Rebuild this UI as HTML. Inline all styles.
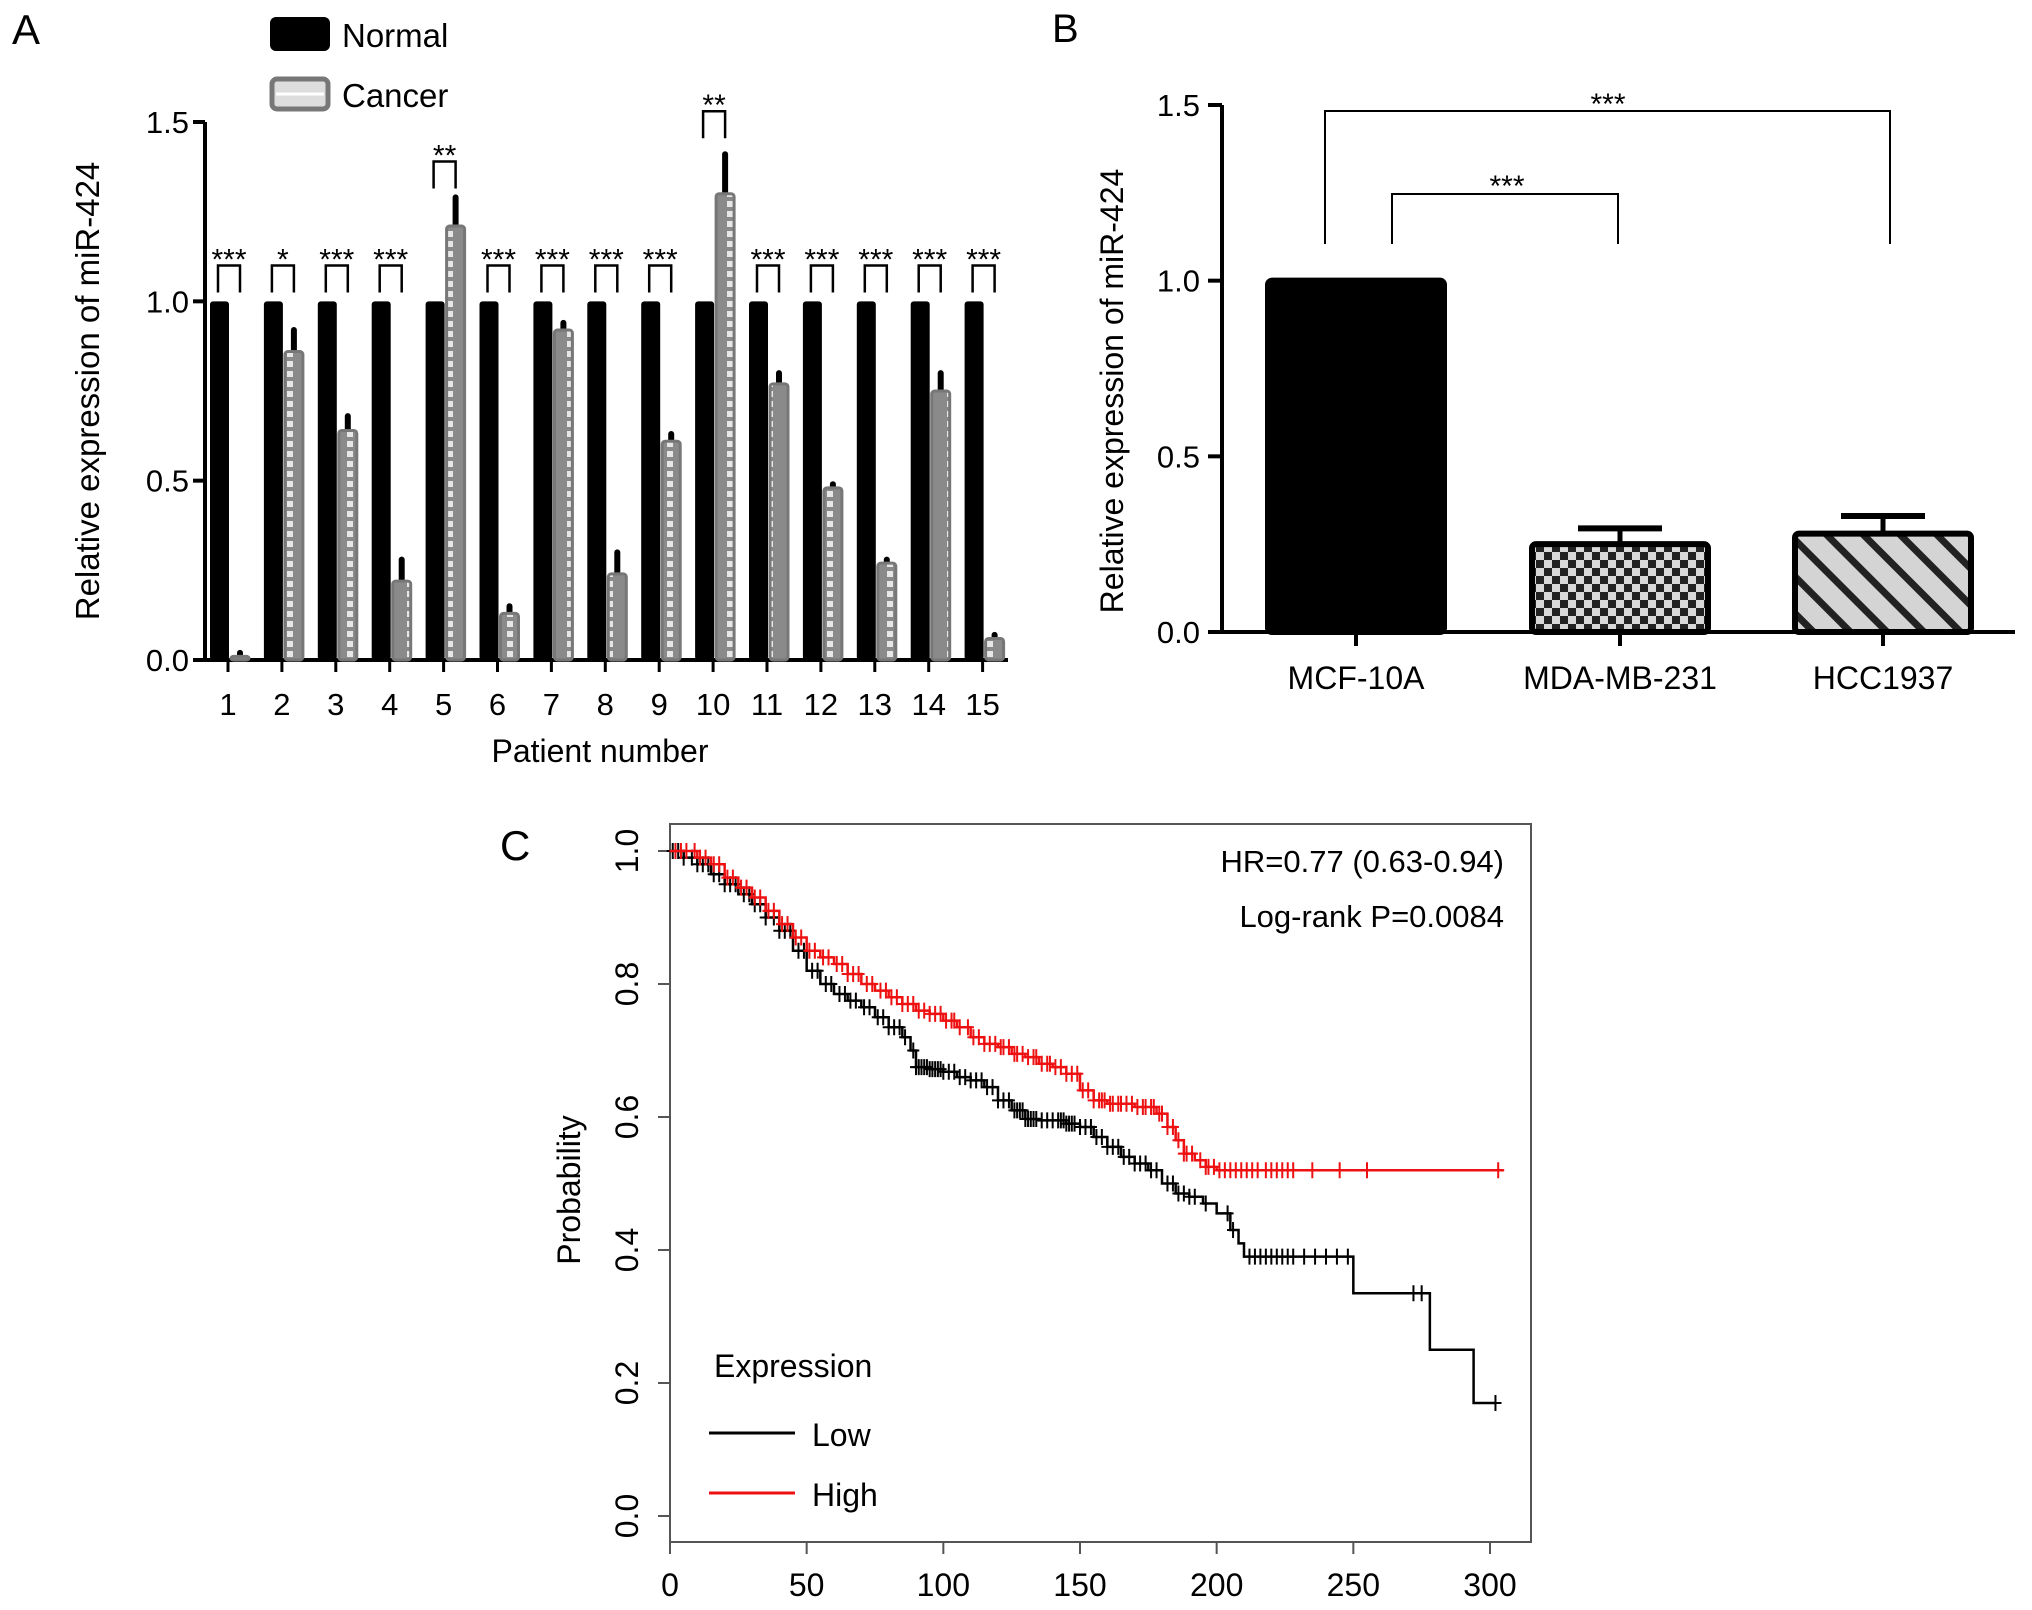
<!DOCTYPE html>
<html><head><meta charset="utf-8"><style>
html,body{margin:0;padding:0;background:#fff;}
svg{display:block;font-family:"Liberation Sans",Arial,sans-serif;}
</style></head><body>
<svg id="fig" width="2032" height="1610" viewBox="0 0 2032 1610" xmlns="http://www.w3.org/2000/svg">
<defs>
<pattern id="cancerPat" patternUnits="userSpaceOnUse" width="20" height="10">
<rect width="20" height="10" fill="#8a8a8a"/>
<rect x="7" y="1" width="6" height="6" fill="#e6e6e6"/>
</pattern>
<pattern id="checkPat" patternUnits="userSpaceOnUse" width="16" height="16">
<rect width="16" height="16" fill="#d8d8d8"/>
<rect width="8" height="8" fill="#222"/>
<rect x="8" y="8" width="8" height="8" fill="#222"/>
</pattern>
<pattern id="stripePat" patternUnits="userSpaceOnUse" width="26" height="26" patternTransform="rotate(-45)">
<rect width="26" height="26" fill="#d4d4d4"/>
<rect width="7" height="26" fill="#222"/>
</pattern>
</defs>
<g id="panelA"></g>
<g id="panelB"></g>
<g id="panelC"></g>
</svg>
<script>
// ---------- Panel A data ----------
const patients = ["1","2","3","4","5","6","7","8","9","10","11","12","13","14","15"];
const normalValues = [1,1,1,1,1,1,1,1,1,1,1,1,1,1,1];
const cancerValues = [0.01,0.86,0.64,0.22,1.21,0.13,0.92,0.24,0.61,1.30,0.77,0.48,0.27,0.75,0.06];
const cancerErrors = [0.01,0.06,0.04,0.06,0.08,0.02,0.02,0.06,0.02,0.11,0.03,0.01,0.01,0.05,0.01];
const sigLabels = ["***","*","***","***","**","***","***","***","***","**","***","***","***","***","***"];
const sigLevels = [1.1,1.1,1.1,1.1,1.39,1.1,1.1,1.1,1.1,1.53,1.1,1.1,1.1,1.1,1.1];
const aTicks = [0,0.5,1.0,1.5];
const aTickLabels = ["0.0","0.5","1.0","1.5"];
// ---------- Panel B data ----------
const cellLines = ["MCF-10A","MDA-MB-231","HCC1937"];
const cellValues = [1.0,0.25,0.28];
const cellErrors = [0,0.045,0.05];
const bTicks = [0,0.5,1.0,1.5];
const bTickLabels = ["0.0","0.5","1.0","1.5"];
// ---------- Panel C data ----------
const lowTimes = [0,5,10,15,20,25,30,35,40,45,50,55,60,65,70,75,80,85,88,90,95,100,105,110,115,120,125,130,135,140,145,150,155,160,165,170,175,180,185,190,195,200,205,208,210,250,278,294,302];
const lowSurv = [1.0,0.99,0.98,0.965,0.95,0.935,0.92,0.9,0.88,0.85,0.82,0.80,0.785,0.775,0.765,0.75,0.735,0.72,0.70,0.675,0.672,0.668,0.66,0.655,0.645,0.625,0.61,0.597,0.595,0.595,0.59,0.585,0.57,0.555,0.54,0.53,0.52,0.5,0.485,0.48,0.47,0.455,0.43,0.41,0.39,0.335,0.25,0.17,0.17];
const highTimes = [0,5,10,15,20,25,30,35,40,45,50,55,60,65,70,75,80,85,90,95,100,105,110,115,120,125,130,135,140,145,150,155,160,170,178,182,185,188,192,196,200,305];
const highSurv = [1.0,1.0,0.99,0.98,0.96,0.945,0.93,0.91,0.89,0.87,0.85,0.84,0.83,0.815,0.80,0.79,0.78,0.77,0.76,0.755,0.745,0.735,0.72,0.71,0.705,0.695,0.69,0.68,0.675,0.665,0.64,0.625,0.62,0.615,0.605,0.585,0.565,0.545,0.535,0.525,0.52,0.52];
const lowCensor = [1,3,5,8,10,12,14,16,18,20,22,24,27,29,31,33,35,38,40,42,44,47,49,52,54,57,59,62,64,66,68,71,73,76,78,80,82,84,86,89,90,91,92,93,94,95,96,97,98,99,100,102,104,106,108,110,112,114,116,118,120,122,124,126,127,128,129,130,131,132,133,134,136,138,140,142,143,144,145,146,147,148,150,152,154,156,158,160,162,164,166,168,170,172,174,176,178,182,184,186,188,190,192,196,204,206,212,214,216,218,220,222,224,226,228,232,236,240,244,248,272,275,302];
const highCensor = [2,4,6,9,11,13,16,18,21,23,26,28,31,33,36,38,41,43,46,48,51,53,56,58,61,63,65,67,69,72,74,77,79,81,83,85,87,89,91,93,95,97,99,101,103,104,106,109,111,113,115,117,119,121,122,124,126,127,129,131,133,134,136,138,139,141,143,145,147,149,151,153,155,157,158,159,161,162,164,165,167,169,171,173,174,176,177,179,180,182,184,186,188,189,191,194,196,197,199,201,203,205,207,209,211,213,215,218,220,222,224,226,228,235,245,255,303];
const cXTicks = [0,50,100,150,200,250,300];
const cYTicks = [0,0.2,0.4,0.6,0.8,1.0];
const cYTickLabels = ["0.0","0.2","0.4","0.6","0.8","1.0"];

const NS = "http://www.w3.org/2000/svg";
function mk(parent, tag, attrs, text){
  const e = document.createElementNS(NS, tag);
  for (const k in attrs) e.setAttribute(k, attrs[k]);
  if (text !== undefined) e.textContent = text;
  parent.appendChild(e);
  return e;
}

// ================= Panel A =================
(function(){
  const g = document.getElementById('panelA');
  const x0 = 205, y0 = 660, yTop = 122, c0 = 228, step = 53.9, xEnd = 1008;
  const yA = v => y0 - (y0 - yTop) * v / 1.5;
  const cx = i => c0 + i * step;
  let t = mk(g,'text',{x:12,y:44,'font-size':42},'A');
   
  let r = mk(g,'rect',{x:270,y:17,width:60,height:34,rx:6,fill:'#000'});
   
  t = mk(g,'text',{x:342,y:47,'font-size':33},'Normal');
   
  r = mk(g,'rect',{x:272,y:79,width:56,height:30,rx:5,fill:'#ddd',stroke:'#777','stroke-width':5});
   
  mk(g,'line',{x1:276,y1:94,x2:324,y2:94,stroke:'#fff','stroke-width':3});
  t = mk(g,'text',{x:342,y:107,'font-size':33},'Cancer');
   
  let ax = mk(g,'line',{x1:x0,y1:yTop,x2:x0,y2:y0+2,stroke:'#000','stroke-width':4});
   
  ax = mk(g,'line',{x1:x0-2,y1:y0,x2:xEnd,y2:y0,stroke:'#000','stroke-width':4});
   
  aTicks.forEach((v,i)=>{
    mk(g,'line',{x1:x0-12,y1:yA(v),x2:x0,y2:yA(v),stroke:'#000','stroke-width':4});
    const tl = mk(g,'text',{x:x0-16,y:yA(v)+11,'font-size':31,'text-anchor':'end'},aTickLabels[i]);
     
  });
  t = mk(g,'text',{x:0,y:0,'font-size':33,'text-anchor':'middle',transform:'translate(99,391) rotate(-90)'},'Relative expression of miR-424');
   
  t = mk(g,'text',{x:600,y:762,'font-size':32,'text-anchor':'middle'},'Patient number');
   
  patients.forEach((p,i)=>{
    const c = cx(i);
    mk(g,'line',{x1:c,y1:y0,x2:c,y2:y0+12,stroke:'#000','stroke-width':3});
    const tl = mk(g,'text',{x:c,y:715,'font-size':31,'text-anchor':'middle'},p);
     
    const nb = mk(g,'rect',{x:c-18,y:yA(normalValues[i]),width:19,height:y0-yA(normalValues[i]),rx:3,fill:'#000'});
     
    const ey = yA(cancerValues[i]+cancerErrors[i]);
    mk(g,'line',{x1:c+12,y1:ey,x2:c+12,y2:yA(cancerValues[i]),stroke:'#000','stroke-width':6,'stroke-linecap':'round'});
    const cb = mk(g,'rect',{x:c+3,y:yA(cancerValues[i]),width:18,height:y0-yA(cancerValues[i]),rx:3,fill:'url(#cancerPat)',stroke:'#777','stroke-width':3});
     
    const ly = yA(sigLevels[i]);
    const br = mk(g,'path',{d:`M${c-10},${ly+27} V${ly} H${c+12} V${ly+27}`,fill:'none',stroke:'#000','stroke-width':2.5});
     
    const st = mk(g,'text',{x:c+1,y:ly+4,'font-size':30,'text-anchor':'middle'},sigLabels[i]);
     
  });
})();

// ================= Panel B =================
(function(){
  const g = document.getElementById('panelB');
  const x0 = 1222, y0 = 632, yTop = 105, xEnd = 2015;
  const yB = v => y0 - (y0 - yTop) * v / 1.5;
  const centers = [1356,1620,1883];
  const fills = ['#000','url(#checkPat)','url(#stripePat)'];
  let t = mk(g,'text',{x:1052,y:42,'font-size':40},'B');
   
  let ax = mk(g,'line',{x1:x0,y1:yTop,x2:x0,y2:y0+2,stroke:'#000','stroke-width':4});
   
  ax = mk(g,'line',{x1:x0-2,y1:y0,x2:xEnd,y2:y0,stroke:'#000','stroke-width':4});
   
  bTicks.forEach((v,i)=>{
    mk(g,'line',{x1:x0-14,y1:yB(v),x2:x0,y2:yB(v),stroke:'#000','stroke-width':4});
    const tl = mk(g,'text',{x:x0-22,y:yB(v)+11,'font-size':31,'text-anchor':'end'},bTickLabels[i]);
     
  });
  t = mk(g,'text',{x:0,y:0,'font-size':32,'text-anchor':'middle',transform:'translate(1123,391) rotate(-90)'},'Relative expression of miR-424');
   
  cellLines.forEach((n,i)=>{
    const c = centers[i], v = cellValues[i];
    mk(g,'line',{x1:c,y1:y0,x2:c,y2:y0+14,stroke:'#000','stroke-width':4});
    const tl = mk(g,'text',{x:c,y:689,'font-size':32,'text-anchor':'middle'},n);
     
    if (cellErrors[i] > 0){
      const ey = yB(v+cellErrors[i]);
      mk(g,'line',{x1:c,y1:ey,x2:c,y2:yB(v),stroke:'#000','stroke-width':5});
      mk(g,'line',{x1:c-42,y1:ey,x2:c+42,y2:ey,stroke:'#000','stroke-width':6});
    }
    const b = mk(g,'rect',{x:c-88,y:yB(v),width:176,height:y0-yB(v),rx:4,fill:fills[i],stroke:'#000','stroke-width':6});
     
  });
  let br = mk(g,'path',{d:'M1325,244 V111 H1890 V244',fill:'none',stroke:'#000','stroke-width':2});
   
  t = mk(g,'text',{x:1608,y:114,'font-size':30,'text-anchor':'middle'},'***');
   
  br = mk(g,'path',{d:'M1392,244 V194 H1618 V244',fill:'none',stroke:'#000','stroke-width':2});
   
  t = mk(g,'text',{x:1507,y:196,'font-size':30,'text-anchor':'middle'},'***');
   
})();

// ================= Panel C =================
(function(){
  const g = document.getElementById('panelC');
  const bx0 = 670, bx1 = 1531, by0 = 824, by1 = 1542;
  const X = tm => 670 + (1490-670) * tm / 300;
  const Y = p => 1516 - (1516-851) * p;
  let t = mk(g,'text',{x:500,y:860,'font-size':42},'C');
   
  const box = mk(g,'rect',{x:bx0,y:by0,width:bx1-bx0,height:by1-by0,fill:'none',stroke:'#555','stroke-width':2});
   
  cXTicks.forEach(v=>{
    mk(g,'line',{x1:X(v),y1:by1,x2:X(v),y2:by1+12,stroke:'#555','stroke-width':2});
    const tl = mk(g,'text',{x:X(v),y:1596,'font-size':32,'text-anchor':'middle'},String(v));
     
  });
  cYTicks.forEach((v,i)=>{
    mk(g,'line',{x1:bx0-12,y1:Y(v),x2:bx0,y2:Y(v),stroke:'#555','stroke-width':2});
    const tl = mk(g,'text',{x:0,y:0,'font-size':32,'text-anchor':'middle',transform:`translate(638,${Y(v)}) rotate(-90)`},cYTickLabels[i]);
     
  });
  t = mk(g,'text',{x:0,y:0,'font-size':32,'text-anchor':'middle',transform:'translate(580,1190) rotate(-90)'},'Probability');
   
  t = mk(g,'text',{x:1504,y:872,'font-size':31,'text-anchor':'end'},'HR=0.77 (0.63-0.94)');
   
  t = mk(g,'text',{x:1504,y:927,'font-size':31,'text-anchor':'end'},'Log-rank P=0.0084');
   
  function survAt(times, surv, tm){
    let s = surv[0];
    for (let i=0;i<times.length;i++){ if (times[i] <= tm) s = surv[i]; else break; }
    return s;
  }
  function drawCurve(times, surv, cens, color, name){
    let d = `M${X(times[0])},${Y(surv[0])}`;
    for (let i=1;i<times.length;i++){
      d += ` H${X(times[i])} V${Y(surv[i])}`;
    }
    const p = mk(g,'path',{d:d,fill:'none',stroke:color,'stroke-width':2.5});
     
    cens.forEach(tm=>{
      const x = X(tm), y = Y(survAt(times,surv,tm));
      const m = mk(g,'path',{d:`M${x-6},${y} H${x+6} M${x},${y-8} V${y+8}`,stroke:color,'stroke-width':2,fill:'none'});
       
    });
  }
  drawCurve(lowTimes, lowSurv, lowCensor, '#000', 'low');
  drawCurve(highTimes, highSurv, highCensor, '#ee1111', 'high');
  t = mk(g,'text',{x:714,y:1377,'font-size':32},'Expression');
   
  let l = mk(g,'line',{x1:709,y1:1433,x2:795,y2:1433,stroke:'#000','stroke-width':3});
   
  t = mk(g,'text',{x:812,y:1446,'font-size':32},'Low');
   
  l = mk(g,'line',{x1:709,y1:1493,x2:795,y2:1493,stroke:'#ee1111','stroke-width':3});
   
  t = mk(g,'text',{x:812,y:1506,'font-size':32},'High');
   
})();
</script>
</body></html>
